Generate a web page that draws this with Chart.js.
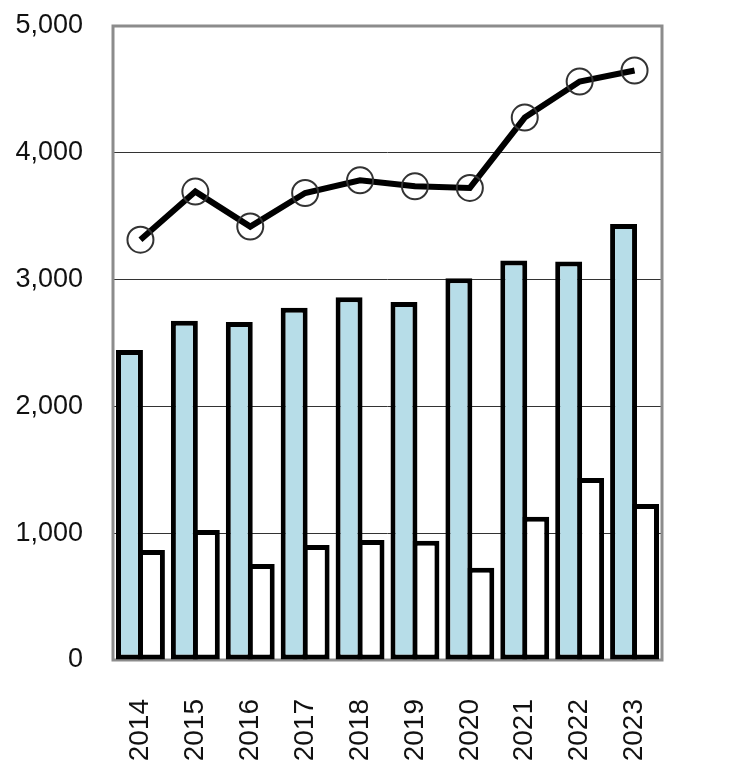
<!DOCTYPE html>
<html>
<head>
<meta charset="utf-8">
<script src="https://cdn.jsdelivr.net/npm/chart.js@4/dist/chart.umd.min.js"></script>
<style>
  html, body { margin: 0; padding: 0; background: #fff; }
  canvas { display: block; }
</style>
</head>
<body>
<canvas id="chart" width="743" height="777"></canvas>
<script>
// values
var years = ["2014", "2015", "2016", "2017", "2018", "2019", "2020", "2021", "2022", "2023"];
var blueBars = [2445, 2675, 2665, 2778, 2860, 2823, 3010, 3150, 3142, 3438];
var whiteBars = [867, 1025, 757, 907, 946, 941, 728, 1130, 1435, 1230];
var lineValues = [3315, 3694, 3418, 3683, 3783, 3736, 3723, 4278, 4562, 4649];
var yTicks = [0, 1000, 2000, 3000, 4000, 5000];

var FONT = "'Liberation Sans', Arial, sans-serif";

// gray frame around the plot area
var framePlugin = {
  id: "frame",
  beforeDatasetsDraw(chart) {
    const a = chart.chartArea;
    const ctx = chart.ctx;
    ctx.save();
    ctx.strokeStyle = "#8c8c8c";
    ctx.lineWidth = 3;
    ctx.strokeRect(a.left, a.top, a.right - a.left, a.bottom - a.top);
    ctx.restore();
  }
};

var barStyle = {
  borderColor: "#000",
  borderWidth: 5,
  borderSkipped: false,
  categoryPercentage: 0.8,
  barPercentage: 1.227,
  order: 1
};

new Chart(document.getElementById("chart").getContext("2d"), {
  type: "bar",
  data: {
    labels: years,
    datasets: [
      Object.assign({ label: "line", type: "line", data: lineValues,
        borderColor: "#000", borderWidth: 6, tension: 0,
        pointRadius: 13, pointBorderWidth: 2, pointBorderColor: "#333",
        pointBackgroundColor: "rgba(0,0,0,0)", order: 0 }),
      Object.assign({ label: "blue", data: blueBars, backgroundColor: "#b7dde8" }, barStyle),
      Object.assign({ label: "white", data: whiteBars, backgroundColor: "#fff" }, barStyle)
    ]
  },
  options: {
    responsive: false,
    animation: false,
    layout: { padding: { top: 26, right: 81, left: 0, bottom: 0 } },
    plugins: { legend: { display: false }, tooltip: { enabled: false } },
    scales: {
      x: {
        offset: true,
        grid: { display: false },
        border: { display: false },
        ticks: {
          autoSkip: false, minRotation: 90, maxRotation: 90, padding: 31,
          color: "#111", font: { family: FONT, size: 28 }
        },
        // keep the plot box fixed, no auto padding from the rotated labels
        afterFit(scale) { scale.height = 117; scale.paddingTop = 0; scale.paddingBottom = 0; }
      },
      y: {
        min: 0, max: 5000,
        afterBuildTicks(scale) { scale.ticks = yTicks.map(v => ({ value: v })); },
        grid: {
          drawTicks: false,
          color: ctx => (ctx.tick && (ctx.tick.value === 0 || ctx.tick.value === 5000)) ? "rgba(0,0,0,0)" : "#333",
          lineWidth: 1
        },
        border: { display: false },
        ticks: {
          padding: 30, color: "#111", font: { family: FONT, size: 27 },
          callback: v => v.toLocaleString("en-US")
        },
        afterFit(scale) { scale.width = 113; scale.paddingTop = 0; scale.paddingBottom = 0; }
      }
    }
  },
  plugins: [framePlugin]
});
</script>
</body>
</html>
